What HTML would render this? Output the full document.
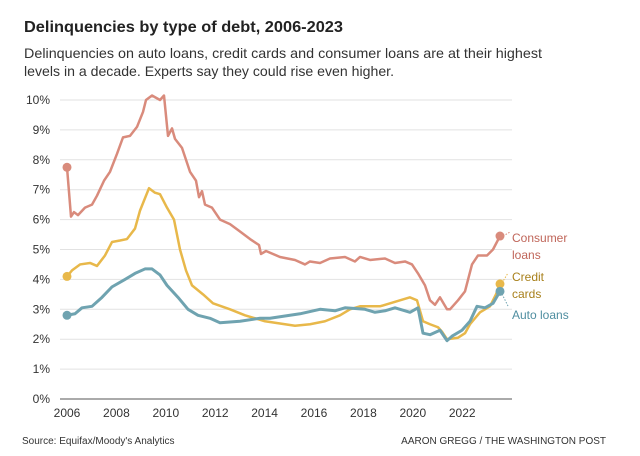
<!DOCTYPE html>
<html><head><meta charset="utf-8"><style>
body{margin:0;background:#fff}
svg{display:block;font-family:"Liberation Sans",sans-serif}
</style></head><body>
<svg id="s" width="640" height="456" viewBox="0 0 640 456" xmlns="http://www.w3.org/2000/svg">
<text x="24" y="32" font-size="16" font-weight="bold" fill="#222" textLength="319" lengthAdjust="spacingAndGlyphs">Delinquencies by type of debt, 2006-2023</text>
<text x="24" y="58" font-size="14" fill="#333" textLength="518" lengthAdjust="spacingAndGlyphs">Delinquencies on auto loans, credit cards and consumer loans are at their highest</text>
<text x="24" y="76" font-size="14" fill="#333" textLength="370" lengthAdjust="spacingAndGlyphs">levels in a decade. Experts say they could rise even higher.</text>
<g id="grid"></g>
<g id="lines"></g>
<text x="512" y="242" font-size="12" fill="#c0665a">Consumer</text>
<text x="512" y="259" font-size="12" fill="#c0665a">loans</text>
<text x="512" y="281" font-size="12" fill="#a8801b">Credit</text>
<text x="512" y="298" font-size="12" fill="#a8801b">cards</text>
<text x="512" y="319" font-size="12" fill="#4f8ea0">Auto loans</text>
<line x1="503" y1="236" x2="510" y2="232" stroke="#d98b7c" stroke-dasharray="1.5,1.5"/>
<line x1="502" y1="283" x2="508" y2="273" stroke="#e8b84a" stroke-dasharray="1.5,1.5"/>
<line x1="502" y1="294" x2="508" y2="306" stroke="#6fa3b0" stroke-dasharray="1.5,1.5"/>
<text x="22" y="444" font-size="10" fill="#333">Source: Equifax/Moody's Analytics</text>
<text x="606" y="444" font-size="10" fill="#333" text-anchor="end">AARON GREGG / THE WASHINGTON POST</text>
</svg>
<script>
var NS="http://www.w3.org/2000/svg",g=document.getElementById("grid"),L=document.getElementById("lines");
function Y(v){return 399-29.9*v}
function el(t,a,p){var e=document.createElementNS(NS,t);for(var k in a)e.setAttribute(k,a[k]);(p||g).appendChild(e);return e}
for(var i=0;i<=10;i++){var y=Y(i);el("line",{x1:60,x2:512,y1:y,y2:y,stroke:i?"#e2e2e2":"#555","stroke-width":1});
var t=el("text",{x:50,y:y+4,"font-size":12,fill:"#333","text-anchor":"end"});t.textContent=i+"%";}
for(var yr=2006;yr<=2022;yr+=2){var x=67+24.7*(yr-2006);var t=el("text",{x:x,y:417,"font-size":12,fill:"#333","text-anchor":"middle"});t.textContent=yr;}
var C=[[67,7.75],[71,6.1],[74,6.25],[78,6.15],[85,6.4],[92,6.5],[97,6.8],[104,7.3],[110,7.6],[117,8.2],[123,8.75],[130,8.8],[137,9.1],[143,9.6],[146,10.0],[152,10.15],[160,10.0],[164,10.15],[168,8.8],[172,9.05],[175,8.7],[182,8.4],[190,7.6],[196,7.3],[199,6.75],[202,6.95],[205,6.5],[212,6.4],[220,6.0],[230,5.85],[240,5.6],[250,5.35],[259,5.15],[261,4.85],[266,4.95],[280,4.75],[295,4.65],[305,4.5],[310,4.6],[320,4.55],[330,4.7],[345,4.75],[355,4.6],[360,4.75],[370,4.65],[385,4.7],[395,4.55],[405,4.6],[412,4.5],[418,4.2],[425,3.8],[430,3.3],[435,3.15],[440,3.4],[447,3.0],[450,3.0],[458,3.3],[465,3.6],[472,4.5],[478,4.8],[487,4.8],[493,5.0],[500,5.45]];
var R=[[67,4.1],[72,4.3],[80,4.5],[90,4.55],[97,4.45],[105,4.8],[112,5.25],[120,5.3],[127,5.35],[135,5.7],[140,6.3],[149,7.05],[155,6.9],[160,6.85],[167,6.4],[174,6.0],[180,5.0],[186,4.3],[192,3.8],[203,3.5],[213,3.2],[230,3.0],[245,2.8],[265,2.6],[285,2.5],[295,2.45],[310,2.5],[325,2.6],[340,2.8],[350,3.0],[360,3.1],[380,3.1],[400,3.3],[410,3.4],[417,3.3],[423,2.6],[430,2.5],[438,2.4],[442,2.25],[447,2.0],[458,2.05],[465,2.2],[470,2.5],[480,2.9],[490,3.1],[496,3.5],[500,3.85]];
var A=[[67,2.8],[75,2.85],[82,3.05],[92,3.1],[102,3.4],[112,3.75],[125,4.0],[135,4.2],[145,4.35],[152,4.35],[160,4.15],[167,3.8],[178,3.4],[188,3.0],[198,2.8],[210,2.7],[220,2.55],[240,2.6],[260,2.7],[270,2.7],[290,2.8],[300,2.85],[320,3.0],[335,2.95],[345,3.05],[365,3.0],[375,2.9],[385,2.95],[395,3.05],[410,2.9],[418,3.05],[423,2.2],[430,2.15],[440,2.3],[447,1.95],[452,2.1],[462,2.3],[470,2.6],[477,3.1],[485,3.05],[493,3.2],[500,3.6]];
function draw(d,c,w){el("polyline",{points:d.map(function(p){return p[0]+","+Y(p[1])}).join(" "),fill:"none",stroke:c,"stroke-width":w,"stroke-linejoin":"round"},L);
el("circle",{cx:d[0][0],cy:Y(d[0][1]),r:4.5,fill:c},L);var e=d[d.length-1];el("circle",{cx:e[0],cy:Y(e[1]),r:4.5,fill:c},L);}
draw(C,"#d98b7c",2.5);draw(R,"#e8b84a",2.5);draw(A,"#6fa3b0",3);
</script>
</body></html>
